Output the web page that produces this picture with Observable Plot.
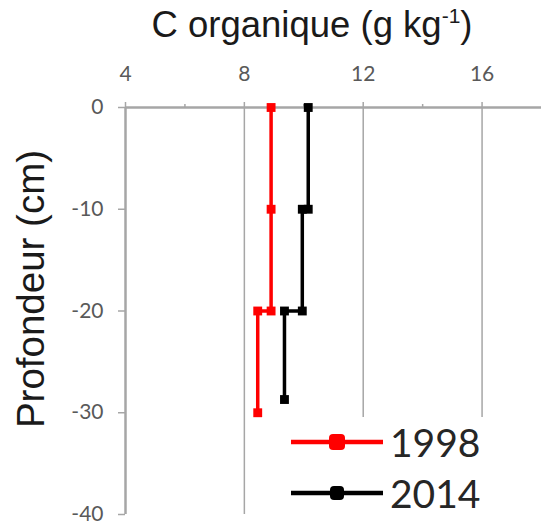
<!DOCTYPE html>
<html><head><meta charset="utf-8">
<script src="https://cdn.jsdelivr.net/npm/d3@7"></script>
<script src="https://cdn.jsdelivr.net/npm/@observablehq/plot@0.6"></script>
<style>
body{margin:0;background:#fff;}
#wrap{position:relative;width:541px;height:526px;overflow:hidden;background:#fff;}
#title{position:absolute;left:0;top:7px;width:624px;text-align:center;font-family:"Liberation Sans",Arial,sans-serif;font-size:36.5px;color:#1a1a1a;white-space:nowrap;line-height:1;}
#title sup{font-size:21px;vertical-align:14px;line-height:0;}
#ylab{position:absolute;left:31px;top:289px;transform:translate(-50%,-50%) rotate(-90deg);font-family:"Liberation Sans",Arial,sans-serif;font-size:38.5px;color:#1a1a1a;white-space:nowrap;line-height:1;}
#legend{position:absolute;left:272px;top:417px;width:240px;height:109px;background:#fff;}
.row{position:absolute;left:0;height:40px;display:flex;align-items:center;}
.row span{font-family:Lato,"Open Sans",sans-serif;font-size:39px;color:#262626;margin-left:7px;}
</style></head><body>
<div id="wrap"><div id="title"></div><div id="ylab"></div><div id="legend"></div></div>
<script>
// Data
const years = ["1998", "2014"];
const colors = ["#ff0000", "#000000"];
const carbon1998 = [8.9, 8.9, 8.9, 8.45, 8.45];
const depth1998 = [0, -10, -20, -20, -30];
const carbon2014 = [10.15, 10.15, 9.95, 9.95, 9.35, 9.35];
const depth2014 = [0, -10, -10, -20, -20, -28.7];
const xTicks = [4, 8, 12, 16];
const xMinorTicks = [6, 10, 14];
const xGrid = [8, 12, 16];
const yTicks = [0, -10, -20, -30, -40];
const titleText = "C organique (g kg";
const titleSup = "-1";
const yLabelText = "Profondeur (cm)";

const rows = [
  ...carbon1998.map((c, i) => ({carbon: c, depth: depth1998[i], year: years[0]})),
  ...carbon2014.map((c, i) => ({carbon: c, depth: depth2014[i], year: years[1]}))
];

const axisGray = "#a6a6a6";
const plot = Plot.plot({
  width: 541, height: 526,
  marginLeft: 125, marginRight: 0, marginTop: 107, marginBottom: 12,
  x: {domain: [4, 18]},
  y: {domain: [-40, 0]},
  color: {domain: years, range: colors},
  style: {fontFamily: "Lato, 'Open Sans', sans-serif", fontSize: "21px", color: "#595959", background: "transparent", overflow: "visible"},
  marks: [
    Plot.ruleX(xGrid, {stroke: axisGray, strokeWidth: 1.5}),
    Plot.ruleX([4], {stroke: axisGray, strokeWidth: 2.5}),
    Plot.ruleY([0], {stroke: axisGray, strokeWidth: 2.5}),
    Plot.axisX(xTicks, {anchor: "top", tickSize: 6, tickPadding: 21, stroke: axisGray, strokeWidth: 1.5, label: null}),
    Plot.axisX(xMinorTicks, {anchor: "top", tickSize: 4, text: null, stroke: axisGray, strokeWidth: 1.5, label: null}),
    Plot.axisY(yTicks, {anchor: "left", tickSize: 7, tickPadding: 15, stroke: axisGray, strokeWidth: 1.5, label: null, tickFormat: d => String(d)}),
    Plot.line(rows, {x: "carbon", y: "depth", z: "year", stroke: "year", strokeWidth: 3.5}),
    Plot.dot(rows, {x: "carbon", y: "depth", fill: "year", symbol: "square", r: 5})
  ]
});
const wrap = document.getElementById("wrap");
wrap.insertBefore(plot, wrap.firstChild);

document.getElementById("title").innerHTML = titleText + "<sup>" + titleSup + "</sup>)";
document.getElementById("ylab").textContent = yLabelText;

const legend = document.getElementById("legend");
years.forEach((y, i) => {
  const row = document.createElement("div");
  row.className = "row";
  row.style.top = (i === 0 ? 5 : 56) + "px";
  row.style.left = "19px";
  row.innerHTML = `<svg width="92" height="20"><line x1="0" x2="92" y1="10" y2="10" stroke="${colors[i]}" stroke-width="4.5"/><rect x="${46 - (i ? 7 : 8)}" y="${10 - (i ? 7 : 8)}" width="${i ? 14 : 16}" height="${i ? 14 : 16}" rx="4" fill="${colors[i]}"/></svg><span>${y}</span>`;
  legend.appendChild(row);
});
</script>
</body></html>
